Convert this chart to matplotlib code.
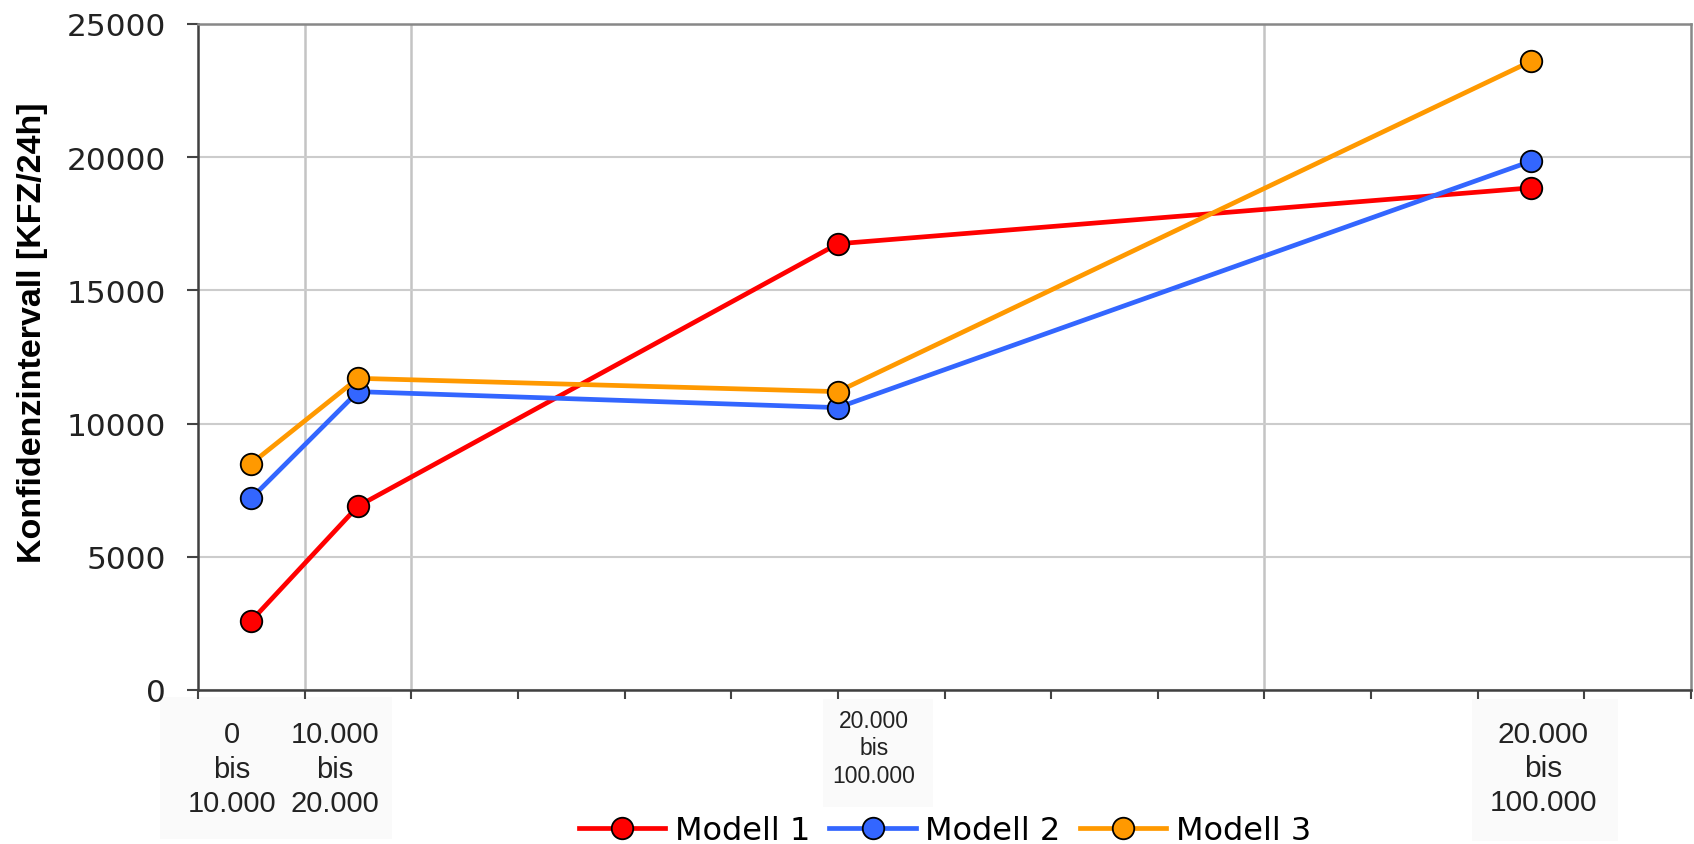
import matplotlib.pyplot as plt
from matplotlib.patches import Rectangle

# Werte
x_pos = [0.5, 1.5, 6, 12.5]
modell_1 = [2600, 6900, 16750, 18850]
modell_2 = [7200, 11200, 10600, 19850]
modell_3 = [8500, 11700, 11200, 23600]
namen = ["Modell 1", "Modell 2", "Modell 3"]
farben = ["#ff0000", "#3366ff", "#ff9900"]
kategorien = ["0\nbis\n10.000", "10.000\nbis\n20.000",
              "20.000\nbis\n100.000", "20.000\nbis\n100.000"]
y_ticks = [0, 5000, 10000, 15000, 20000, 25000]

W, H = 1694, 845
fig = plt.figure(figsize=(W / 100, H / 100), dpi=100)
ax = fig.add_axes([198 / W, 1 - 691 / H, (1691 - 198) / W, (691 - 25) / H])


def px(x, y):
    # Pixel (von oben links) -> Figure-Koordinaten
    return x / W, 1 - y / H


for werte, name, farbe in zip([modell_1, modell_2, modell_3], namen, farben):
    ax.plot(x_pos, werte, color=farbe, lw=3.4, marker='o', ms=15.5,
            mfc=farbe, mec='black', mew=1.3, label=name, zorder=3)

ax.set_xlim(0, 14)
ax.set_ylim(0, 25000)
ax.set_yticks(y_ticks)
ax.set_yticklabels([str(v) for v in y_ticks], fontsize=22.5, color='#222222',
                   family='DejaVu Sans')
ax.set_xticks(range(15))
ax.set_xticklabels([])
ax.tick_params(axis='y', length=8, width=1.5, color='#444444', pad=15)
ax.tick_params(axis='x', length=6.5, width=1.5, color='#444444')

ax.grid(axis='y', color='#cccccc', lw=1.5, zorder=0)
for xv in [1, 2, 10]:
    ax.axvline(xv, color='#c4c4c4', lw=1.8, zorder=0)

for s in ['left', 'bottom']:
    ax.spines[s].set_color('#404040')
    ax.spines[s].set_linewidth(1.8)
for s in ['top', 'right']:
    ax.spines[s].set_color('#888888')
    ax.spines[s].set_linewidth(1.8)

fig.text(*px(33, 333), "Konfidenzintervall [KFZ/24h]", rotation=90,
         ha='center', va='center', fontsize=24.5, fontweight='bold',
         family='Liberation Sans')

# Hinterlegte Kategorienbeschriftungen
boxen = [(160, 698, 392, 840), (823, 700, 933, 808), (1472, 700, 1618, 842)]
for x0, y0, x1, y1 in boxen:
    fx0, fy1 = px(x0, y0)
    fx1, fy0 = px(x1, y1)
    fig.add_artist(Rectangle((fx0, fy0), fx1 - fx0, fy1 - fy0,
                             transform=fig.transFigure, fc='#fafafa',
                             ec='none', zorder=0))

label_pos = [(232, 721, 21, 1.3), (335, 721, 21, 1.3),
             (874, 710, 16.5, 1.25), (1543, 721, 21.5, 1.27)]
for text, (lx, ly, fs, ls) in zip(kategorien, label_pos):
    fig.text(*px(lx, ly), text, ha='center', va='top', fontsize=fs,
             linespacing=ls, color='#222222', family='Liberation Sans')

fig.legend(loc='center', bbox_to_anchor=(945 / W, 1 - 832 / H), ncol=3,
           frameon=False, prop={'family': 'DejaVu Sans', 'size': 23},
           handlelength=2.7, handletextpad=0.3, columnspacing=0.6,
           borderpad=0, borderaxespad=0)

fig.savefig("out.png", dpi=100)
